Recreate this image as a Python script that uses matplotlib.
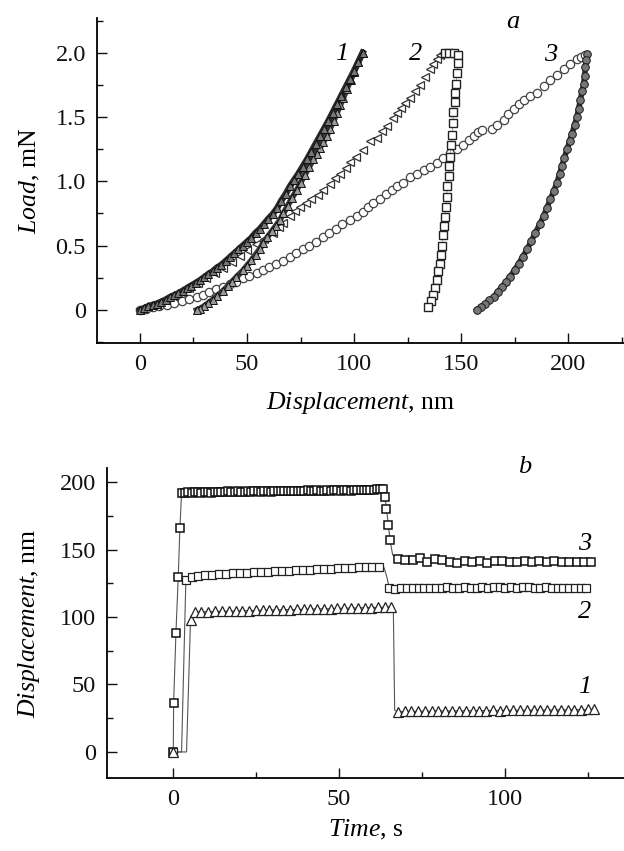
import matplotlib
matplotlib.use("Agg")
import matplotlib.pyplot as plt
from matplotlib.ticker import MultipleLocator

plt.rcParams['font.family'] = ['Liberation Serif', 'DejaVu Serif']
plt.rcParams['mathtext.fontset'] = 'custom'
plt.rcParams['mathtext.rm'] = 'Liberation Serif'
plt.rcParams['mathtext.it'] = 'Liberation Serif:italic'

# ---- panel a: load vs displacement ----
h1_load = [0, 2, 4, 6, 8, 10, 12, 14, 16, 18, 20, 22, 24, 26, 28, 30, 32, 34, 36, 38,
           40, 42, 44, 46, 48, 50, 52, 54, 56, 58, 60, 62, 64, 66, 68, 70, 72, 74, 76, 78,
           80, 82, 84, 86, 88, 90, 92, 94, 96, 98, 100, 102, 104]
P1_load = [0, 0.015, 0.03, 0.04, 0.05, 0.065, 0.08, 0.10, 0.115, 0.13, 0.15, 0.17, 0.19, 0.21,
           0.23, 0.255, 0.28, 0.30, 0.33, 0.35, 0.38, 0.41, 0.44, 0.47, 0.50, 0.53, 0.56, 0.60,
           0.63, 0.67, 0.71, 0.745, 0.79, 0.85, 0.90, 0.96, 1.01, 1.06, 1.115, 1.17, 1.23, 1.29,
           1.35, 1.41, 1.47, 1.535, 1.60, 1.665, 1.73, 1.795, 1.86, 1.93, 2.0]

h1_unload = [104, 102, 100, 98.5, 96.7, 95, 93.5, 92, 90.5, 88.8, 87.2, 85.6, 84, 82.5, 81,
             79, 77, 75, 73.2, 71, 69, 67, 65.4, 63.5, 61.5, 59.5, 57.6, 56, 54, 52, 50,
             48.3, 45, 43, 41, 38.9, 36, 34, 32, 30, 28, 26.5]
P1_unload = [2.0, 1.925, 1.85, 1.79, 1.72, 1.65, 1.59, 1.53, 1.47, 1.41, 1.35, 1.305, 1.26,
             1.215, 1.17, 1.11, 1.05, 0.99, 0.93, 0.87, 0.81, 0.75, 0.70, 0.655, 0.61, 0.565,
             0.52, 0.475, 0.43, 0.385, 0.345, 0.31, 0.255, 0.22, 0.185, 0.15, 0.11, 0.08,
             0.055, 0.03, 0.01, 0.0]

h2_load = [0, 4, 8, 12, 15.6, 19, 23, 27, 31, 35, 38.9, 43, 46.7, 50, 54, 58, 62.3, 65, 67,
           70, 72.5, 74.8, 77.5, 80, 83, 85.7, 88.8, 91, 93.5, 96, 98, 101, 104, 107.5, 110.6,
           113, 115.3, 118, 120, 122, 124, 126.2, 128.5, 130.8, 133, 135.5, 137, 138.6, 140,
           141.7]
P2_load = [0, 0.02, 0.04, 0.075, 0.11, 0.14, 0.17, 0.21, 0.25, 0.29, 0.33, 0.375, 0.42, 0.465,
           0.51, 0.555, 0.60, 0.645, 0.675, 0.73, 0.77, 0.80, 0.83, 0.86, 0.895, 0.93, 0.98,
           1.025, 1.06, 1.10, 1.15, 1.19, 1.24, 1.31, 1.34, 1.39, 1.43, 1.49, 1.53, 1.57, 1.61,
           1.65, 1.70, 1.75, 1.81, 1.87, 1.91, 1.95, 1.98, 2.0]

h2_unload = [142.5, 144.5, 146.5, 148.7, 148.4, 148.0, 147.7, 147.2, 146.9, 146.4, 146.1,
             145.7, 145.2, 144.9, 144.5, 144.1, 143.6, 143.3, 143.0, 142.5, 142.1, 141.7,
             141.2, 140.6, 140.0, 139.4, 138.6, 137.9, 137.0, 136.0, 134.7]
P2_unload = [2.0, 2.0, 2.0, 1.98, 1.92, 1.84, 1.76, 1.69, 1.62, 1.54, 1.45, 1.36, 1.28, 1.19,
             1.12, 1.04, 0.96, 0.88, 0.80, 0.72, 0.65, 0.58, 0.50, 0.43, 0.36, 0.30, 0.23,
             0.17, 0.12, 0.07, 0.02]

h3_load = [0, 3, 6, 9, 12.5, 16, 19.5, 23, 26.5, 29.5, 32.5, 35.5, 38.9, 42, 45, 48, 51,
           54.5, 57.5, 60.5, 63.5, 67, 70.1, 73, 76, 79, 82, 85.7, 88.5, 91.5, 94.5, 98,
           101.3, 104, 106.5, 109, 112, 115, 117.5, 120, 123, 126, 129.3, 132.5, 135.5, 138.6,
           141.5, 144.9, 148, 151, 153.5, 155.8, 158, 159.7]
P3_load = [0, 0.01, 0.02, 0.03, 0.04, 0.055, 0.07, 0.085, 0.10, 0.12, 0.14, 0.16, 0.18, 0.20,
           0.22, 0.245, 0.265, 0.29, 0.31, 0.335, 0.355, 0.38, 0.41, 0.44, 0.47, 0.50, 0.53,
           0.57, 0.60, 0.63, 0.665, 0.70, 0.73, 0.765, 0.80, 0.83, 0.865, 0.90, 0.93, 0.96,
           0.99, 1.03, 1.06, 1.09, 1.115, 1.14, 1.18, 1.22, 1.25, 1.28, 1.32, 1.35, 1.38, 1.40]
h3_load_b = [164.3, 166.5, 169.8, 172, 174.5, 177, 179.1, 182, 185.4, 188.5, 191.6, 194.5,
             197.8, 201, 204.1, 206, 208]
P3_load_b = [1.41, 1.44, 1.48, 1.52, 1.56, 1.60, 1.63, 1.66, 1.69, 1.74, 1.79, 1.83, 1.87,
             1.91, 1.95, 1.97, 1.98]

h3_unload = [208.7, 208.4, 208.0, 207.6, 207.2, 206.4, 205.6, 204.8, 204.0, 202.9, 201.7,
             200.6, 199.4, 198.2, 197.0, 195.9, 194.7, 193.2, 191.6, 190.0, 188.5, 186.6,
             184.6, 182.7, 180.7, 178.8, 176.8, 174.9, 172.9, 171.0, 169.0, 167.0, 165.1,
             163.2, 161.2, 159.2, 157.3]
P3_unload = [1.99, 1.94, 1.89, 1.82, 1.76, 1.70, 1.63, 1.565, 1.50, 1.435, 1.37, 1.31, 1.25,
             1.185, 1.12, 1.055, 0.99, 0.925, 0.86, 0.795, 0.73, 0.665, 0.60, 0.535, 0.47,
             0.415, 0.36, 0.31, 0.26, 0.22, 0.18, 0.14, 0.10, 0.075, 0.05, 0.025, 0.0]

# ---- panel b: displacement vs time (marker points / line-only kink points) ----
t3 = [0, 0.1, 0.8, 1.5, 2.0, 2.5,
      3.5, 4.5, 5.5, 6.5, 7.5, 8.5, 9.5, 10.5, 11.5, 12.5,
      13.5, 14.5, 15.5, 16.5, 17.5, 18.5, 19.5, 20.5, 21.5, 22.5,
      23.5, 24.5, 25.5, 26.5, 27.5, 28.5, 29.5, 30.5, 31.5, 32.5,
      33.5, 34.5, 35.5, 36.5, 37.5, 38.5, 39.5, 40.5, 41.5, 42.5,
      43.5, 44.5, 45.5, 46.5, 47.5, 48.5, 49.5, 50.5, 51.5, 52.5,
      53.5, 54.5, 55.5, 56.5, 57.5, 58.5, 59.5, 60.5, 61.5, 62.5,
      63.2, 63.9, 64.3, 64.9, 65.4, 67.7,
      70.0, 72.2, 74.5, 76.7, 79.0, 81.2, 83.5, 85.7, 88.0, 90.2, 92.5, 94.7, 97.0,
      99.2, 101.5, 103.7, 106.0, 108.2, 110.5, 112.7, 115.0, 117.2, 119.5, 121.7, 124.0, 126.0]
d3 = [0, 36, 88, 130, 166, 192,
      192.0, 192.4, 191.8, 192.3, 192.6, 192.1, 192.5, 192.8, 192.2, 192.6,
      192.9, 192.4, 192.7, 193.0, 192.5, 192.8, 193.1, 192.6, 192.9, 193.2,
      192.7, 193.0, 193.3, 192.8, 193.1, 193.4, 192.9, 193.2, 193.5, 193.0,
      193.3, 193.6, 193.1, 193.4, 193.7, 193.2, 193.5, 193.8, 193.3, 193.6,
      193.9, 193.4, 193.7, 194.0, 193.5, 193.8, 194.1, 193.6, 193.9, 194.2,
      193.7, 194.0, 194.3, 193.8, 194.1, 194.4, 193.9, 194.2, 194.5, 194.6,
      195.0, 188.9, 180.2, 168.4, 156.8, 143.2,
      142.0, 142.2, 143.8, 141.0, 143.0, 142.2, 141.0, 140.3, 141.6, 140.8, 141.5, 140.2, 141.2,
      141.4, 140.4, 141.0, 141.3, 140.6, 141.2, 140.8, 141.3, 140.6, 141.0, 140.5, 140.9, 140.4]
t3_kink = [66.2]
d3_kink = [146.0]

t2 = [0, 3.8,
      5.5, 7.6, 9.7, 11.8, 13.9, 16.0, 18.1, 20.2, 22.3, 24.4, 26.5, 28.6, 30.7, 32.8,
      34.9, 37.0, 39.1, 41.2, 43.3, 45.4, 47.5, 49.6, 51.7, 53.8, 55.9, 58.0, 60.1, 62.2,
      65.2, 67.0, 68.7, 70.5, 72.2, 74.0, 75.7, 77.5, 79.2, 81.0, 82.7, 84.5, 86.2, 88.0,
      89.7, 91.5, 93.2, 95.0, 96.7, 98.5, 100.2, 102.0, 103.7, 105.5, 107.2, 109.0, 110.7,
      112.5, 114.2, 116.0, 117.7, 119.5, 121.2, 123.0, 124.5]
d2 = [0, 127.4,
      130.0, 130.6, 131.0, 131.4, 131.7, 132.1, 132.3, 132.6, 132.8, 133.1, 133.3, 133.6,
      133.8, 134.1, 134.4, 134.6, 134.9, 135.1, 135.4, 135.6, 135.8, 136.1, 136.3, 136.6,
      136.9, 137.0, 137.2, 137.3,
      121.3, 121.0, 121.4, 121.2, 121.6, 121.3, 121.5, 121.8, 121.4, 121.6, 121.9, 121.5,
      121.7, 122.0, 121.6, 121.8, 122.0, 121.7, 121.9, 122.1, 121.8, 122.0, 121.7, 121.9,
      122.1, 121.8, 121.6, 121.9, 121.7, 121.5, 121.8, 121.6, 121.4, 121.7, 121.5]
t2_kink = [2.5, 63.6, 64.4]
d2_kink = [0, 136.5, 130.0]

t1 = [0, 5.2,
      6.5, 8.5, 10.6, 12.6, 14.7, 16.7, 18.8, 20.8, 22.9, 24.9, 27.0, 29.0, 31.1, 33.1, 35.2,
      37.2, 39.3, 41.3, 43.4, 45.4, 47.5, 49.5, 51.6, 53.6, 55.7, 57.7, 59.8, 61.8, 63.9, 65.7,
      67.7, 69.8, 71.8, 73.9, 75.9, 78.0, 80.0, 82.1, 84.1, 86.2, 88.2, 90.3, 92.3, 94.4, 96.4,
      98.5, 100.5, 102.6, 104.6, 106.7, 108.7, 110.8, 112.8, 114.9, 116.9, 119.0, 121.0, 123.1,
      125.1, 127.0]
d1 = [0, 97.8,
      103.6, 103.8, 104.0, 104.1, 104.2, 104.4, 104.5, 104.6, 104.8, 104.9, 105.0, 105.1, 105.3,
      105.4, 105.5, 105.6, 105.7, 105.9, 106.0, 106.1, 106.2, 106.4, 106.5, 106.6, 106.8, 106.9,
      107.0, 107.2, 107.3, 107.4,
      29.8, 30.0, 30.2, 30.1, 30.3, 30.2, 30.4, 30.3, 30.5, 30.4, 30.6, 30.5, 30.7, 30.6, 30.8,
      30.7, 30.9, 30.8, 31.0, 30.9, 31.1, 31.0, 31.2, 31.1, 31.3, 31.2, 31.4, 31.3, 31.5, 31.6]
t1_kink = [4.0, 66.4, 66.8]
d1_kink = [0, 106.0, 31.0]


def style_axes(ax):
    for s in ['top', 'right']:
        ax.spines[s].set_visible(False)
    for s in ['left', 'bottom']:
        ax.spines[s].set_linewidth(1.3)
    ax.tick_params(which='both', direction='in', width=1.0, labelsize=17.5, colors='#111')
    ax.tick_params(which='major', length=7, pad=8)
    ax.tick_params(which='minor', length=4.5)


def line_with_kinks(t, d, tk, dk):
    pts = sorted(list(zip(t, d)) + list(zip(tk, dk)), key=lambda p: p[0])
    return [p[0] for p in pts], [p[1] for p in pts]


fig = plt.figure(figsize=(6.24, 8.51), dpi=100)

# ---------------- panel a ----------------
ax1 = fig.add_axes([97 / 624, 1 - 343 / 851, (624 - 97) / 624, (343 - 18) / 851])

circ = dict(ms=6, mfc='white', mec='#444', mew=0.9, zorder=3)
ax1.plot(h3_load, P3_load, 'o', **circ)
ax1.plot(h3_load_b, P3_load_b, 'o', **circ)
ax1.plot(h3_unload, P3_unload, '-', color='#333', lw=4.0, zorder=3)
ax1.plot(h3_unload, P3_unload, 'o', ms=5.5, mfc='#777', mec='#1a1a1a', mew=0.7, zorder=4)

ax1.plot(h2_load, P2_load, '<', ms=5.5, mfc='white', mec='#333', mew=0.9, zorder=4)
ax1.plot(h2_unload, P2_unload, '-', color='#888', lw=0.5, zorder=4)
ax1.plot(h2_unload, P2_unload, 's', ms=5.5, mfc='white', mec='#222', mew=1.0, zorder=5)

ax1.plot(h1_unload, P1_unload, '-', color='#3a3a3a', lw=4.2, zorder=5)
ax1.plot(h1_unload, P1_unload, '^', ms=6, mfc='#999', mec='#111', mew=0.7, zorder=6)
ax1.plot(h1_load, P1_load, '-', color='#2a2a2a', lw=4.6, zorder=5)
ax1.plot(h1_load, P1_load, '^', ms=6, mfc='#777', mec='#111', mew=0.7, zorder=6)

ax1.set_xlim(-20, 226)
ax1.set_ylim(-0.257, 2.27)
ax1.xaxis.set_major_locator(MultipleLocator(50))
ax1.xaxis.set_minor_locator(MultipleLocator(25))
ax1.yaxis.set_major_locator(MultipleLocator(0.5))
ax1.yaxis.set_minor_locator(MultipleLocator(0.25))
ax1.set_yticks([0, 0.5, 1.0, 1.5, 2.0])
ax1.set_yticklabels(['0', '0.5', '1.0', '1.5', '2.0'])
style_axes(ax1)
ax1.set_xlabel(r'$\mathit{Displacement}$, nm', fontsize=18.5)
ax1.set_ylabel(r'$\mathit{Load}$, mN', fontsize=18.5)
ax1.xaxis.set_label_coords(0.5, -0.145)
ax1.yaxis.set_label_coords(-0.105, 0.5)

lab = dict(fontsize=19, style='italic', ha='center', va='center', clip_on=False)
ax1.text(94.4, 1.99, '1', **lab)
ax1.text(128.5, 1.99, '2', **lab)
ax1.text(192.0, 1.98, '3', **lab)
ax1.text(174.3, 2.24, 'a', **lab)

# ---------------- panel b ----------------
ax2 = fig.add_axes([107 / 624, 1 - 778 / 851, (624 - 107) / 624, (778 - 468) / 851])

lc = dict(color='#555', lw=0.8, zorder=2)
x, y = line_with_kinks(t3, d3, t3_kink, d3_kink)
ax2.plot(x, y, '-', **lc)
x, y = line_with_kinks(t2, d2, t2_kink, d2_kink)
ax2.plot(x, y, '-', **lc)
x, y = line_with_kinks(t1, d1, t1_kink, d1_kink)
ax2.plot(x, y, '-', **lc)

ax2.plot(t3, d3, 's', ms=6.3, mfc='white', mec='#111', mew=1.1, zorder=3)
ax2.plot(t2, d2, 's', ms=6, mfc='white', mec='#222', mew=0.9, zorder=3)
ax2.plot(t1, d1, '^', ms=6.5, mfc='white', mec='#222', mew=0.9, zorder=3)

ax2.set_xlim(-20, 136)
ax2.set_ylim(-19.3, 210.4)
ax2.xaxis.set_major_locator(MultipleLocator(50))
ax2.xaxis.set_minor_locator(MultipleLocator(25))
ax2.yaxis.set_major_locator(MultipleLocator(50))
ax2.yaxis.set_minor_locator(MultipleLocator(25))
style_axes(ax2)
ax2.set_xlabel(r'$\mathit{Time}$, s', fontsize=18.5)
ax2.set_ylabel(r'$\mathit{Displacement}$, nm', fontsize=18.5)
ax2.xaxis.set_label_coords(0.5, -0.13)
ax2.yaxis.set_label_coords(-0.125, 0.5)

ax2.text(124, 154.3, '3', **lab)
ax2.text(124, 103.7, '2', **lab)
ax2.text(124, 48.1, '1', **lab)
ax2.text(106, 211, 'b', **lab)

fig.savefig('out.png', dpi=100)
